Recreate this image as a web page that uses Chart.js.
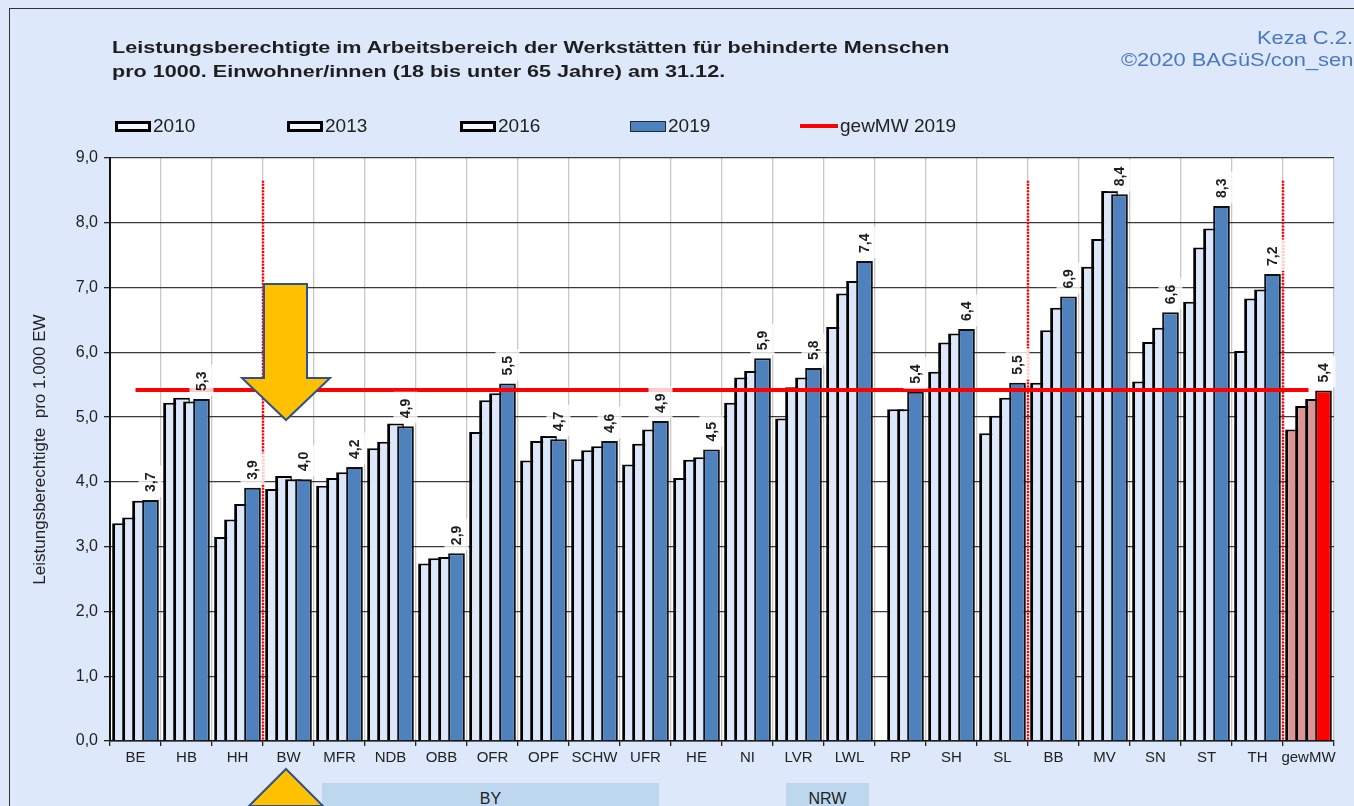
<!DOCTYPE html>
<html lang="de">
<head>
<meta charset="utf-8">
<title>Leistungsberechtigte im Arbeitsbereich der WfbM</title>
<script src="https://cdn.jsdelivr.net/npm/chart.js@4.4.1/dist/chart.umd.min.js"></script>
<style>
  html, body { margin: 0; padding: 0; }
  body {
    width: 1354px; height: 806px; overflow: hidden; position: relative;
    background: #dde8fb; font-family: "Liberation Sans", Arial, sans-serif; color: #1e1e1e;
  }
  #frame { position: absolute; left: 9px; top: 8px; width: 1400px; height: 900px;
    border-left: 1.5px solid #333; border-top: 1.5px solid #333; }
  #chartBox { position: absolute; left: 0; top: 0; width: 1354px; height: 806px; }
  .title { position: absolute; left: 112px; top: 36px; font-weight: bold; font-size: 17px; line-height: 24px;
    white-space: nowrap; transform: scaleX(1.27); transform-origin: 0 0; }
  .source { position: absolute; font-size: 19px; color: #4a78c0; white-space: nowrap;
    transform: scaleX(1.15); transform-origin: 0 0; }
  .lg { position: absolute; top: 115px; height: 22px; display: flex; align-items: center; font-size: 19px; color: #222; white-space: nowrap; }
  .lg i { display: inline-block; box-sizing: border-box; width: 36px; height: 11px; margin-right: 2px; }
  .lg i.light { background: #f4f7fd; border: 3px solid #000; }
  .lg i.blue { background: #4f81bd; border: 1.5px solid #1a2a40; }
  .lg i.line { height: 4px; background: #ff0000; width: 38px; }
  .region { position: absolute; top: 783px; height: 30px; background: #bdd7ee; font-size: 16px; text-align: center; line-height: 32px; color: #222; }
  svg.arrows { position: absolute; left: 0; top: 0; }
</style>
</head>
<body>
<div id="frame"></div>
<div id="chartBox"><canvas id="chart"></canvas></div>

<div class="title">Leistungsberechtigte im Arbeitsbereich der Werkstätten für behinderte Menschen<br>pro 1000. Einwohner/innen (18 bis unter 65 Jahre) am 31.12.</div>
<div class="source" style="left:1257px; top:27px;">Keza C.2.1</div>
<div class="source" style="left:1121px; top:49px;">©2020 BAGüS/con_sens</div>

<div class="lg" style="left:115px"><i class="light"></i>2010</div>
<div class="lg" style="left:287px"><i class="light"></i>2013</div>
<div class="lg" style="left:460px"><i class="light"></i>2016</div>
<div class="lg" style="left:630px"><i class="blue"></i>2019</div>
<div class="lg" style="left:800px"><i class="line"></i>gewMW 2019</div>

<div class="region" style="left:322px; width:337px;">BY</div>
<div class="region" style="left:786px; width:83px;">NRW</div>

<svg class="arrows" width="1354" height="806">
  <polygon points="264,284 307,284 307,378 330,378 286,420 242,378 264,378"
           fill="#ffc000" stroke="#2f528f" stroke-width="2"/>
  <polygon points="286,769 323,806 249,806" fill="#ffc000" stroke="#2f528f" stroke-width="2"/>
</svg>

<script>
// Daten
const labels = ['BE', 'HB', 'HH', 'BW', 'MFR', 'NDB', 'OBB', 'OFR', 'OPF', 'SCHW', 'UFR', 'HE',
                'NI', 'LVR', 'LWL', 'RP', 'SH', 'SL', 'BB', 'MV', 'SN', 'ST', 'TH', 'gewMW'];
const v2010 = [3.36, 5.22, 3.15, 3.89, 3.94, 4.52, 2.74, 4.77, 4.33, 4.35, 4.27, 4.06,
               5.22, 4.98, 6.39, null, 5.70, 4.75, 5.53, 7.32, 5.55, 6.78, 6.02, 4.81];
const v2013 = [3.45, 5.30, 3.42, 4.09, 4.06, 4.62, 2.82, 5.26, 4.63, 4.49, 4.59, 4.34,
               5.61, 5.46, 6.91, 5.12, 6.15, 5.02, 6.34, 7.75, 6.16, 7.62, 6.83, 5.17];
const v2016 = [3.71, 5.24, 3.66, 4.04, 4.15, 4.90, 2.84, 5.37, 4.71, 4.55, 4.81, 4.38,
               5.71, 5.61, 7.10, 5.12, 6.29, 5.30, 6.69, 8.49, 6.38, 7.91, 6.97, 5.28];
const v2019 = [3.72, 5.28, 3.91, 4.04, 4.23, 4.86, 2.90, 5.52, 4.66, 4.63, 4.94, 4.50,
               5.91, 5.76, 7.41, 5.39, 6.36, 5.53, 6.86, 8.44, 6.62, 8.26, 7.21, 5.41];
const gewMW2019 = 5.42;
const yTicks = [0, 1, 2, 3, 4, 5, 6, 7, 8, 9];
// rote Trennlinien nach diesen Kategorien
const separatorsAfter = ['HH', 'SL', 'TH'];
const separatorTop = 8.65;

const FONT = '"Liberation Sans", Arial, sans-serif';
const fmt = v => v.toFixed(1).replace('.', ',');

function lightSet(label, data) {
    return {
        type: 'bar',
        label: label,
        data: data,
        backgroundColor: data.map((v, i) => i === data.length - 1 ? '#d99694' : '#dde7fa'),
        borderColor: '#000',
        borderWidth: { left: 3, top: 2, right: 1.5, bottom: 0 },
        barPercentage: 1.67,
        categoryPercentage: 0.784
    };
}

const datasets = [
    lightSet('2010', v2010),
    lightSet('2013', v2013),
    lightSet('2016', v2016),
    {
        type: 'bar',
        label: '2019',
        data: v2019,
        backgroundColor: v2019.map((v, i) => i === v2019.length - 1 ? '#ff0000' : '#4f81bd'),
        borderColor: '#111',
        borderWidth: { left: 2, top: 2, right: 2, bottom: 0 },
        barPercentage: 1.67,
        categoryPercentage: 0.784
    },
    {
        type: 'line',
        label: 'gewMW 2019',
        data: labels.map(() => gewMW2019),
        borderColor: '#ff0000',
        borderWidth: 4,
        pointRadius: 0,
        fill: false
    }
];

// Weißer Hintergrund der Zeichenfläche
const plotBackground = {
    id: 'plotBackground',
    beforeDraw(chart) {
        const { ctx, chartArea } = chart;
        ctx.save();
        ctx.fillStyle = '#ffffff';
        ctx.fillRect(chartArea.left, chartArea.top, chartArea.width, chartArea.height);
        ctx.restore();
    }
};

// Reihenfolge wie in Excel: spätere Jahre liegen vorne
const drawOrder = {
    id: 'drawOrder',
    beforeDatasetsDraw(chart) {
        const { ctx, chartArea } = chart;
        ctx.save();
        ctx.beginPath();
        ctx.rect(chartArea.left, chartArea.top - 5, chartArea.width + 5, chartArea.height + 5);
        ctx.clip();
        chart.data.datasets.forEach((ds, i) => {
            chart.getDatasetMeta(i).controller.draw();
        });
        ctx.restore();
        return false;
    }
};

// Trennlinien und Werte-Beschriftung 2019
const overlay = {
    id: 'overlay',
    afterDraw(chart) {
        const { ctx, scales: { x, y } } = chart;
        ctx.save();
        ctx.strokeStyle = '#ff0000';
        ctx.lineWidth = 2.5;
        ctx.setLineDash([2, 1.2]);
        separatorsAfter.forEach(name => {
            const i = labels.indexOf(name);
            const px = (x.getPixelForValue(i) + x.getPixelForValue(i + 1)) / 2;
            ctx.beginPath();
            ctx.moveTo(px, y.getPixelForValue(separatorTop));
            ctx.lineTo(px, y.getPixelForValue(0));
            ctx.stroke();
        });
        ctx.restore();

        const meta = chart.getDatasetMeta(3);
        ctx.save();
        ctx.font = 'bold 14px ' + FONT;
        meta.data.forEach((bar, i) => {
            const txt = fmt(v2019[i]);
            const w = ctx.measureText(txt).width;
            ctx.fillStyle = 'rgba(255,255,255,0.8)';
            ctx.fillRect(bar.x - 12, bar.y - w - 15, 24, w + 12);
            ctx.save();
            ctx.translate(bar.x + 1, bar.y - 8);
            ctx.rotate(-Math.PI / 2);
            ctx.fillStyle = '#1e1e1e';
            ctx.textAlign = 'left';
            ctx.textBaseline = 'middle';
            ctx.fillText(txt, 0, 0);
            ctx.restore();
        });
        ctx.restore();
    }
};

const chart = new Chart(document.getElementById('chart'), {
    type: 'bar',
    data: { labels: labels, datasets: datasets },
    options: {
        responsive: true,
        maintainAspectRatio: false,
        animation: false,
        layout: { padding: { top: 158, left: 30, right: 20, bottom: 0 } },
        plugins: {
            legend: { display: false },
            title: { display: false },
            tooltip: { enabled: false }
        },
        scales: {
            x: {
                offset: true,
                grid: { offset: true, color: '#c8c8c8', lineWidth: 1.3, tickColor: '#222', tickLength: 5 },
                border: { color: '#111', width: 1.5 },
                ticks: { font: { family: FONT, size: 15 }, color: '#222', padding: 3, maxRotation: 0, autoSkip: false },
                afterFit: s => { s.height = 65; }
            },
            y: {
                min: 0,
                max: 9,
                afterBuildTicks: s => { s.ticks = yTicks.map(v => ({ value: v })); },
                grid: { color: '#3a3a3a', lineWidth: 1.3, tickColor: '#222', tickLength: 6 },
                border: { color: '#111', width: 2 },
                ticks: { font: { family: FONT, size: 16 }, color: '#222', padding: 6, callback: v => fmt(v) },
                title: {
                    display: true,
                    text: 'Leistungsberechtigte  pro 1.000 EW',
                    font: { family: FONT, size: 17 },
                    color: '#222',
                    padding: 0
                },
                afterFit: s => { s.width = 80; }
            }
        }
    },
    plugins: [plotBackground, drawOrder, overlay]
});
</script>
</body>
</html>
